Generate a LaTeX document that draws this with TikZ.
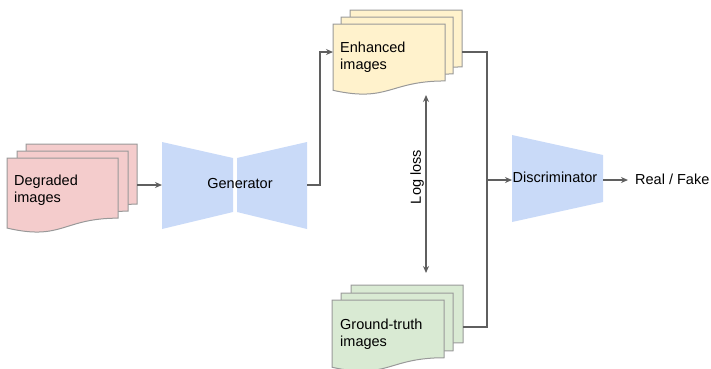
\documentclass[tikz,border=0pt]{standalone}
\usepackage{fontspec}
\setmainfont{Liberation Sans}
\usetikzlibrary{arrows.meta}
\definecolor{pinkf}{HTML}{F4CCCC}
\definecolor{yellowf}{HTML}{FFF2CC}
\definecolor{greenf}{HTML}{D9EAD3}
\definecolor{bluef}{HTML}{C9DAF8}
\definecolor{docline}{HTML}{999999}
\definecolor{conn}{HTML}{5F5F5F}
\newcommand\mydocshape[5]{%
  \draw[docline, line width=1pt, fill=#5]
    (#1,#2) -- ++(#3,0) -- ++(0,0.802*#4)
    .. controls ++(-0.5*#3,0) and ++(0.5*#3,0.173*#4) .. ++(-#3,0.132*#4) -- cycle;}
\tikzset{
  lbl/.style={font=\fontsize{14.5}{17}\selectfont, inner sep=0pt, text=black},
  conn/.style={draw=conn, line width=1.4pt, -{Stealth[length=7pt,width=6pt]}},
  biconn/.style={draw=conn, line width=1.4pt, {Stealth[length=7pt,width=6pt]}-{Stealth[length=7pt,width=6pt]}},
  plainconn/.style={draw=conn, line width=1.4pt},
  trap/.style={fill=bluef, draw=none}
}
\begin{document}
\begin{tikzpicture}[x=1pt,y=-1pt]
\useasboundingbox (0,0) rectangle (711,368);
% Degraded
\mydocshape{26}{144}{111}{75}{pinkf}
\mydocshape{17}{151}{111}{75}{pinkf}
\mydocshape{7}{158}{111}{75}{pinkf}
\node[lbl, anchor=west, align=left] (degr) at (14,190) {Degraded\\images};
\coordinate (degrout) at (137,185);
% Enhanced
\mydocshape{350}{10}{112}{71}{yellowf}
\mydocshape{341}{17}{112}{71}{yellowf}
\mydocshape{333}{24}{112}{71}{yellowf}
\node[lbl, anchor=west, align=left] (enh) at (340,57) {Enhanced\\images};
\coordinate (enhin) at (333,52);
\coordinate (enhout) at (462,52);
% Ground truth
\mydocshape{351}{285}{112}{72}{greenf}
\mydocshape{341}{293}{112}{72}{greenf}
\mydocshape{332}{300}{112}{72}{greenf}
\node[lbl, anchor=west, align=left] (gt) at (340,334) {Ground-truth\\images};
\coordinate (gtout) at (463,327);
% Generator
\path[trap] (162,142) -- (233,158) -- (233,212) -- (162,229) -- cycle;
\path[trap] (237,158) -- (307,142) -- (307,229) -- (237,212) -- cycle;
\node[lbl] (gen) at (240,183) {Generator};
\coordinate (genin) at (162,185);
\coordinate (genout) at (307,185);
% Discriminator
\path[trap] (512,135) -- (603,155) -- (603,202) -- (512,222) -- cycle;
\node[lbl] (disc) at (555,177) {Discriminator};
\coordinate (discin) at (512,180);
\coordinate (discout) at (603,180);
\node[lbl, anchor=west] (rf) at (635,179) {Real / Fake};
\coordinate (rfin) at (628,180);
% junction
\coordinate (jtop) at (487,52);
\coordinate (jmid) at (487,180);
\coordinate (jbot) at (487,327);
% Log loss
\coordinate (lltop) at (426,95);
\coordinate (llbot) at (426,273);
\node[lbl, rotate=90] (ll) at (417,177) {Log loss};
% connectors
\draw[conn] (degrout) -- (genin);
\draw[conn] (genout) -- (320,185) -- (320,52) -- (enhin);
\draw[plainconn] (enhout) -- (jtop) -- (jbot) -- (gtout);
\draw[conn] (jmid) -- (discin);
\draw[conn] (discout) -- (rfin);
\draw[biconn] (lltop) -- (llbot);
\end{tikzpicture}
\end{document}
